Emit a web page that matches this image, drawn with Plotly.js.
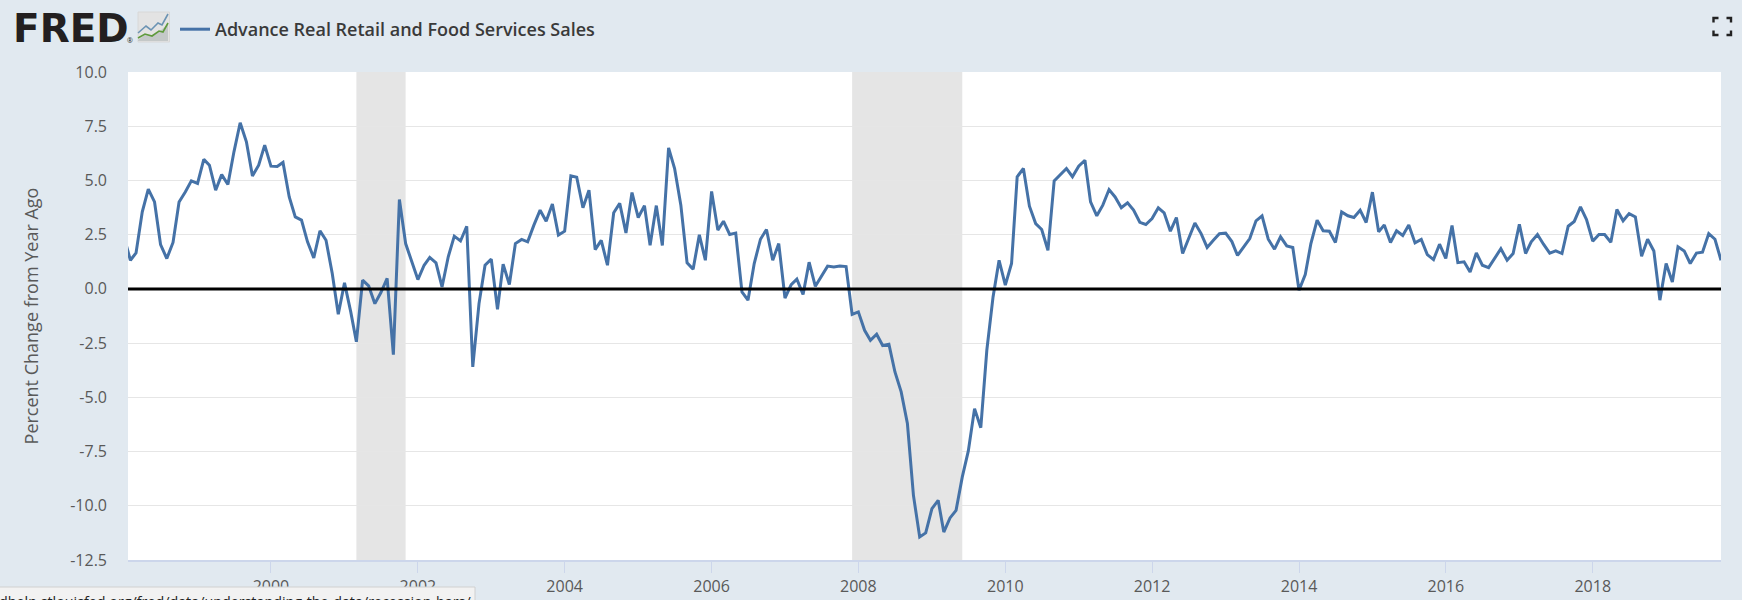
<!DOCTYPE html>
<html>
<head>
<meta charset="utf-8">
<script src="https://cdn.plot.ly/plotly-3.0.1.min.js"></script>
<style>html,body{margin:0;padding:0;background:#e1e9f0;overflow:hidden}#chart{width:1742px;height:600px}</style>
</head>
<body>
<div id="chart"></div>
<script>
var seriesName = 'Advance Real Retail and Food Services Sales';
var yAxisTitle = 'Percent Change from Year Ago';
var firstYear = 1998;
var values = [
 2.37,1.32,1.66,3.55,4.60,4.01,2.04,1.40,2.14,4.01,4.47,4.98,
 4.86,5.97,5.70,4.55,5.27,4.81,6.32,7.66,6.78,5.21,5.70,6.63,
 5.66,5.64,5.83,4.24,3.32,3.17,2.17,1.43,2.68,2.24,0.71,-1.17,
 0.28,-1.06,-2.44,0.40,0.14,-0.68,-0.17,0.48,-3.03,4.12,2.09,1.25,
 0.43,1.09,1.45,1.20,0.09,1.48,2.43,2.21,2.89,-3.60,-0.68,1.09,
 1.37,-0.94,1.14,0.20,2.09,2.28,2.17,2.94,3.63,3.12,3.91,2.48,
 2.66,5.21,5.15,3.74,4.55,1.81,2.24,1.09,3.51,3.94,2.58,4.44,
 3.29,3.84,2.01,3.84,2.00,6.50,5.55,3.86,1.20,0.91,2.49,1.32,
 4.49,2.71,3.12,2.51,2.57,-0.14,-0.52,1.17,2.29,2.74,1.32,2.09,
 -0.42,0.20,0.45,-0.26,1.23,0.12,0.60,1.05,1.01,1.05,1.03,-1.18,
 -1.06,-1.91,-2.37,-2.09,-2.61,-2.55,-3.83,-4.75,-6.21,-9.52,-11.44,-11.25,
 -10.13,-9.75,-11.21,-10.56,-10.21,-8.67,-7.47,-5.52,-6.40,-2.83,-0.37,1.32,
 0.17,1.17,5.17,5.55,3.81,3.01,2.74,1.78,4.98,5.24,5.55,5.17,
 5.66,5.93,4.01,3.37,3.86,4.58,4.24,3.74,3.97,3.63,3.07,2.97,
 3.24,3.74,3.51,2.66,3.29,1.63,2.37,3.04,2.55,1.91,2.24,2.54,
 2.57,2.18,1.54,1.94,2.32,3.14,3.37,2.29,1.83,2.40,1.98,1.91,
 -0.06,0.66,2.09,3.17,2.68,2.66,2.14,3.55,3.37,3.29,3.63,3.06,
 4.46,2.63,2.95,2.14,2.68,2.46,2.94,2.12,2.28,1.58,1.35,2.06,
 1.40,2.92,1.21,1.25,0.78,1.66,1.09,0.98,1.43,1.85,1.32,1.63,
 2.98,1.63,2.17,2.51,2.06,1.65,1.75,1.63,2.89,3.11,3.78,3.20,
 2.20,2.51,2.51,2.15,3.66,3.14,3.47,3.32,1.51,2.29,1.75,-0.52,
 1.17,0.32,1.94,1.75,1.17,1.65,1.69,2.55,2.29,1.32
];
var recessionStarts = ['2001-03-01','2007-12-01'];
var recessionEnds = ['2001-11-01','2009-06-01'];
var xRange = ['1998-01-20','2019-10-01'];
var yTicks = [-12.5,-10,-7.5,-5,-2.5,0,2.5,5,7.5,10];
var tooltipText = 'dhelp.stlouisfed.org/fred/data/understanding-the-data/recession-bars/';
var logoText = 'FRED';

var dates = values.map(function(_, i){
  var y = firstYear + Math.floor(i/12), m = i%12 + 1;
  return y + '-' + (m<10?'0':'') + m + '-01';
});

var L=128,R=1721,T=72,B=560;
function px(x){return (x-L)/(R-L);}
function py(y){return (B-y)/(B-T);}
function path(pts){return pts.map(function(p,i){return (i?'L':'M')+px(p[0]).toFixed(5)+','+py(p[1]).toFixed(5);}).join(' ');}
var shapes = [];
recessionStarts.forEach(function(s,i){
  shapes.push({type:'rect',layer:'below',xref:'x',yref:'paper',x0:s,x1:recessionEnds[i],y0:0,y1:1,fillcolor:'#e5e5e5',line:{width:0}});
});
shapes.push({type:'line',layer:'above',xref:'paper',yref:'y',x0:0,x1:1,y0:0,y1:0,line:{color:'#000000',width:3}});
// FRED chart icon
shapes.push({type:'rect',xref:'paper',yref:'paper',layer:'above',x0:px(138),x1:px(169.5),y0:py(42),y1:py(12),fillcolor:'#e3e3e3',line:{color:'#d8d8d8',width:1}});
shapes.push({type:'path',xref:'paper',yref:'paper',layer:'above',path:path([[138,40],[146,34],[152,36],[160,31],[168,24],[168,41],[138,41]])+' Z',fillcolor:'#c4c8c8',line:{width:0}});
shapes.push({type:'path',xref:'paper',yref:'paper',layer:'above',path:path([[138,33],[146,26],[151,30],[158,23],[162,25],[168,14]]),line:{color:'#6b93b3',width:1.6}});
shapes.push({type:'path',xref:'paper',yref:'paper',layer:'above',path:path([[138,38],[145,34],[152,36],[159,31],[163,32],[168,23]]),line:{color:'#5f9a3c',width:1.6}});
// fullscreen icon
[[[1713.5,22.5],[1713.5,18],[1718.5,18]],[[1726.5,18],[1731,18],[1731,22.5]],[[1713.5,30.5],[1713.5,35],[1718.5,35]],[[1726.5,35],[1731,35],[1731,30.5]]].forEach(function(c){
  shapes.push({type:'path',xref:'paper',yref:'paper',layer:'above',path:path(c),line:{color:'#222222',width:2.4}});
});
// status tooltip
shapes.push({type:'rect',xref:'paper',yref:'paper',layer:'above',x0:px(-2),x1:px(475),y0:py(602),y1:py(587),fillcolor:'#f2f2f2',line:{color:'#d0d0d0',width:1}});

var data = [{
  type:'scatter',mode:'lines',name:seriesName,x:dates,y:values,
  line:{color:'#4572a7',width:3,shape:'linear'},hoverinfo:'x+y'
}];
var layout = {
  width:1742,height:600,
  margin:{l:L,r:1742-R,t:T,b:600-B,pad:0,autoexpand:false},
  paper_bgcolor:'#e1e9f0',plot_bgcolor:'#ffffff',
  font:{family:'"Open Sans", sans-serif',color:'#595959',size:16},
  showlegend:true,
  legend:{x:px(175),y:py(11),xanchor:'left',yanchor:'top',bgcolor:'rgba(0,0,0,0)',borderwidth:0,itemwidth:30,
          font:{family:'"Open Sans", sans-serif',size:18,color:'#3a3a3a',weight:600}},
  xaxis:{type:'date',range:xRange,tick0:'2000-01-01',dtick:'M24',tickformat:'%Y',ticks:'outside',ticklen:11,tickwidth:1,tickcolor:'#ccd6eb',
         showgrid:false,zeroline:false,showline:true,linecolor:'#ccd6eb',linewidth:1.5,tickfont:{size:16,color:'#595959'},fixedrange:true},
  yaxis:{range:[-12.5,10],tickmode:'array',tickvals:yTicks,ticktext:yTicks.map(function(v){return v.toFixed(1);}),
         ticks:'',ticklabelstandoff:20,showgrid:true,gridcolor:'#e6e6e6',gridwidth:1.3,zeroline:false,showline:false,
         tickfont:{size:16,color:'#595959'},fixedrange:true,
         title:{text:yAxisTitle,font:{size:18,color:'#595959'},standoff:26}},
  shapes:shapes,
  annotations:[
    {xref:'paper',yref:'paper',x:px(11),y:py(28.5),xanchor:'left',yanchor:'middle',text:logoText,showarrow:false,
     font:{family:'"DejaVu Sans", sans-serif',size:39,color:'#231f20',weight:700}},
    {xref:'paper',yref:'paper',x:px(130),y:py(40.5),xanchor:'center',yanchor:'middle',text:'®',showarrow:false,
     font:{family:'"Open Sans", sans-serif',size:7,color:'#231f20'}},
    {xref:'paper',yref:'paper',x:px(473),y:py(590),xanchor:'right',yanchor:'top',text:tooltipText,showarrow:false,align:'right',
     font:{family:'"Open Sans", sans-serif',size:14.3,color:'#222222'}}
  ]
};
Plotly.newPlot('chart',data,layout,{displayModeBar:false,responsive:false});
</script>
</body>
</html>
